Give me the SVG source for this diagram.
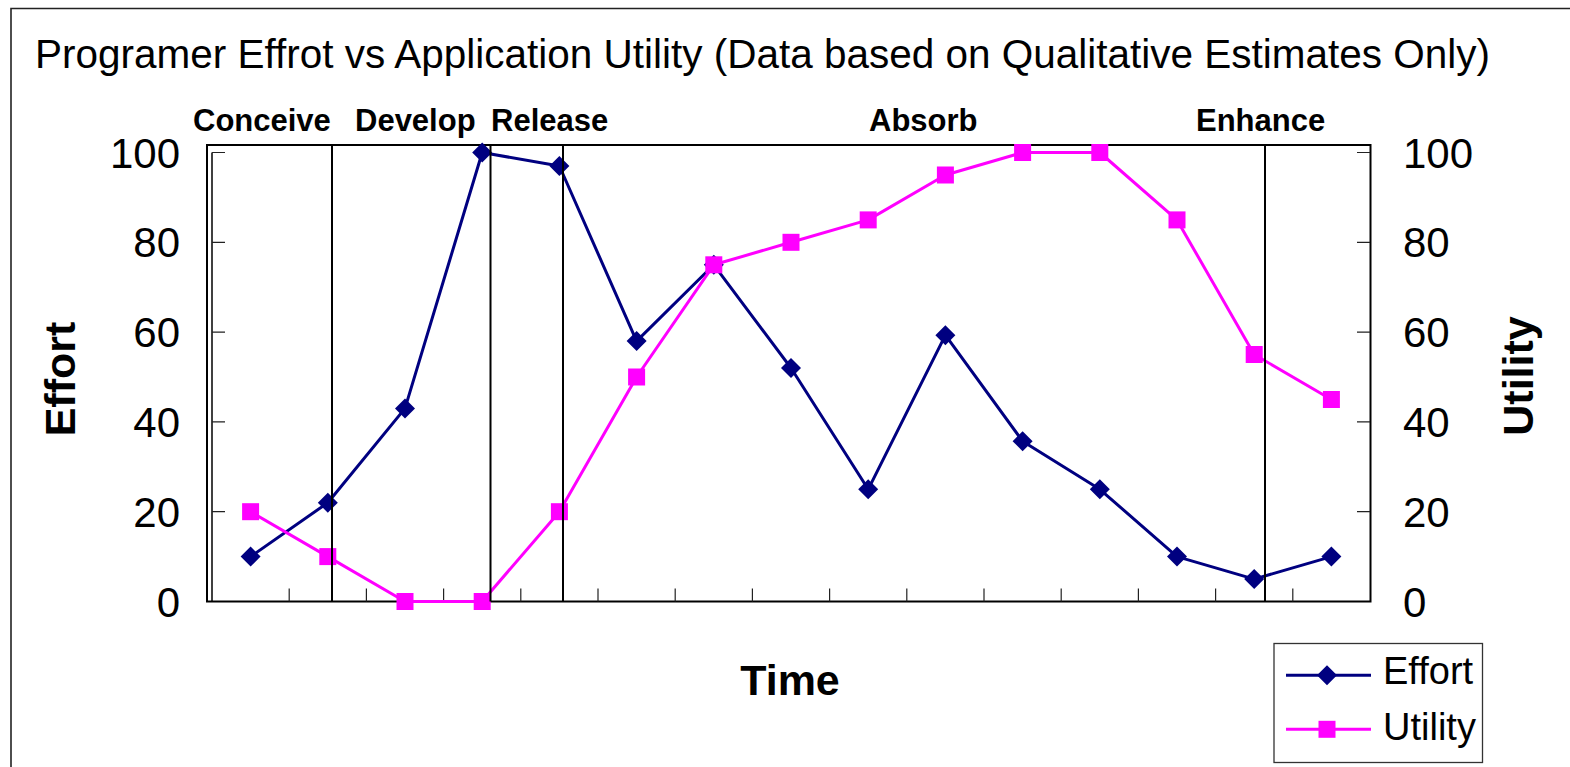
<svg xmlns="http://www.w3.org/2000/svg" width="1570" height="767" viewBox="0 0 1570 767">
<style>
text{font-family:"Liberation Sans",Arial,sans-serif;fill:#000}
.title{font-size:41px}
.phase{font-size:31px;font-weight:bold}
.num{font-size:42px}
.axt{font-size:43px;font-weight:bold}
.leg{font-size:38px}
.tick{stroke:#222;stroke-width:1.2}
.phl{stroke:#000;stroke-width:2}
.eff{fill:none;stroke:#000080;stroke-width:3;stroke-linejoin:round}
.uti{fill:none;stroke:#FF00FF;stroke-width:3;stroke-linejoin:round}
</style>
<defs>
<path id="dia" d="M0,-10 L10,0 L0,10 L-10,0 Z" fill="#000080"/>
<rect id="sq" x="-8.5" y="-8.5" width="17" height="17" fill="#FF00FF"/>
</defs>
<rect width="1570" height="767" fill="#fff"/>
<g id="frame">
<path d="M11,767 L11,8.5 L1570,8.5" fill="none" stroke="#222" stroke-width="1.6"/>
</g>
<text class="title" x="35" y="68" textLength="1455" lengthAdjust="spacingAndGlyphs">Programer Effrot vs Application Utility (Data based on Qualitative Estimates Only)</text>
<g id="plot">
<rect x="207" y="145" width="1163.5" height="456.5" fill="#fff" stroke="#000" stroke-width="2"/>
<path d="M212,152.5 L212,601.5" stroke="#000" stroke-width="1.5"/>
<g class="tick">
<path d="M212,152.5h13M212,242.3h13M212,332.1h13M212,421.9h13M212,511.7h13"/>
<path d="M1370,152.5h-13M1370,242.3h-13M1370,332.1h-13M1370,421.9h-13M1370,511.7h-13"/>
<path d="M289.2,601.5v-13M366.4,601.5v-13M443.6,601.5v-13M520.8,601.5v-13M598,601.5v-13M675.2,601.5v-13M752.4,601.5v-13M829.6,601.5v-13M906.8,601.5v-13M984,601.5v-13M1061.2,601.5v-13M1138.4,601.5v-13M1215.6,601.5v-13M1292.8,601.5v-13"/>
</g>
</g>
<g id="left-axis-labels" class="num" text-anchor="end">
<text class="num" x="180" y="167.5">100</text>
<text class="num" x="180" y="257.3">80</text>
<text class="num" x="180" y="347.1">60</text>
<text class="num" x="180" y="436.9">40</text>
<text class="num" x="180" y="526.7">20</text>
<text class="num" x="180" y="616.5">0</text>
</g>
<g id="right-axis-labels">
<text class="num" x="1403" y="167.5">100</text>
<text class="num" x="1403" y="257.3">80</text>
<text class="num" x="1403" y="347.1">60</text>
<text class="num" x="1403" y="436.9">40</text>
<text class="num" x="1403" y="526.7">20</text>
<text class="num" x="1403" y="616.5">0</text>
</g>
<g id="axis-titles">
<text class="axt" text-anchor="middle" transform="translate(75,379) rotate(-90)">Effort</text>
<text class="axt" text-anchor="middle" transform="translate(1533,376) rotate(-90)">Utility</text>
<text class="axt" text-anchor="middle" x="790" y="695">Time</text>
</g>
<g id="phase-labels">
<text class="phase" x="193" y="131">Conceive</text>
<text class="phase" x="355" y="131">Develop</text>
<text class="phase" x="491" y="131">Release</text>
<text class="phase" x="869" y="131">Absorb</text>
<text class="phase" x="1196" y="131">Enhance</text>
</g>
<g id="series-effort">
<polyline class="eff" points="250.6,556.6 327.8,502.7 405,408.4 482.2,152.5 559.4,166 636.6,341.1 713.8,264.8 791,368 868.2,489.3 945.4,335.2 1022.6,441.2 1099.8,489.3 1177,556.6 1254.2,579.1 1331.4,556.6"/>
<use href="#dia" x="250.6" y="556.6"/><use href="#dia" x="327.8" y="502.7"/><use href="#dia" x="405" y="408.4"/><use href="#dia" x="482.2" y="152.5"/><use href="#dia" x="559.4" y="166"/><use href="#dia" x="636.6" y="341.1"/><use href="#dia" x="713.8" y="264.8"/><use href="#dia" x="791" y="368"/><use href="#dia" x="868.2" y="489.3"/><use href="#dia" x="945.4" y="335.2"/><use href="#dia" x="1022.6" y="441.2"/><use href="#dia" x="1099.8" y="489.3"/><use href="#dia" x="1177" y="556.6"/><use href="#dia" x="1254.2" y="579.1"/><use href="#dia" x="1331.4" y="556.6"/>
</g>
<g id="series-utility">
<polyline class="uti" points="250.6,511.7 327.8,556.6 405,601.5 482.2,601.5 559.4,511.7 636.6,377 713.8,264.8 791,242.3 868.2,219.9 945.4,175 1022.6,152.5 1099.8,152.5 1177,219.9 1254.2,354.5 1331.4,399.5"/>
<use href="#sq" x="250.6" y="511.7"/><use href="#sq" x="327.8" y="556.6"/><use href="#sq" x="405" y="601.5"/><use href="#sq" x="482.2" y="601.5"/><use href="#sq" x="559.4" y="511.7"/><use href="#sq" x="636.6" y="377"/><use href="#sq" x="713.8" y="264.8"/><use href="#sq" x="791" y="242.3"/><use href="#sq" x="868.2" y="219.9"/><use href="#sq" x="945.4" y="175"/><use href="#sq" x="1022.6" y="152.5"/><use href="#sq" x="1099.8" y="152.5"/><use href="#sq" x="1177" y="219.9"/><use href="#sq" x="1254.2" y="354.5"/><use href="#sq" x="1331.4" y="399.5"/>
</g>
<g id="phase-lines">
<path class="phl" d="M332,145V601.5M490.5,145V601.5M563,145V601.5M1265,145V601.5"/>
</g>
<g id="legend">
<rect x="1274" y="643.5" width="208.5" height="119" fill="#fff" stroke="#333" stroke-width="1.3"/>
<path d="M1286,675.3H1371" class="eff"/>
<use href="#dia" x="1327" y="675.3"/>
<text class="leg" x="1383" y="684">Effort</text>
<path d="M1286,729.3H1371" class="uti"/>
<use href="#sq" x="1327" y="729.3"/>
<text class="leg" x="1383" y="740">Utility</text>
</g>
</svg>
